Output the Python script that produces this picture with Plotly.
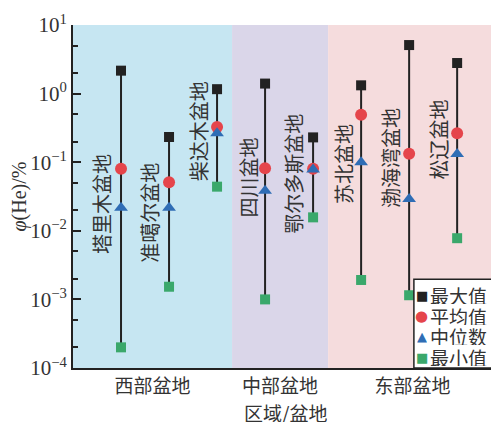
import plotly.graph_objects as go

basins = ["塔里木盆地", "准噶尔盆地", "柴达木盆地", "四川盆地", "鄂尔多斯盆地", "苏北盆地", "渤海湾盆地", "松辽盆地"]
basin_pos = [1, 2, 3, 4, 5, 6, 7, 8]
max_vals = [2.16, 0.233, 1.16, 1.40, 0.23, 1.32, 5.1, 2.79]
mean_vals = [0.080, 0.051, 0.326, 0.0815, 0.080, 0.49, 0.133, 0.264]
median_vals = [0.0217, 0.0217, 0.264, 0.0385, 0.078, 0.10, 0.029, 0.132]
min_vals = [0.0002, 0.00153, 0.044, 0.001, 0.0157, 0.00192, 0.00115, 0.0078]

# label placement (center y in decades) for rotated basin names
label_y = [-1.61, -1.74, -0.55, -1.22, -1.17, -1.03, -0.94, -0.67]
label_dx = [-0.42, -0.40, -0.40, -0.35, -0.40, -0.38, -0.40, -0.38]

regions = ["西部盆地", "中部盆地", "东部盆地"]
region_bounds = [0, 3.3125, 5.3125, 8.83]
region_colors = ["#c6e6f2", "#dad6e9", "#f5dcdd"]

y_tick_exp = [-4, -3, -2, -1, 0, 1]

series_names = ["最大值", "平均值", "中位数", "最小值"]
series_colors = ["#222222", "#e5454b", "#2f6db5", "#3aa86b"]
series_symbols = ["square", "circle", "triangle-up", "square"]
series_sizes = [10, 12, 12, 10]
legend_glyphs = ["■", "●", "▲", "■"]
legend_glyph_sizes = [13, 15, 13, 13]

cjk = "Noto Sans CJK SC"
txt_color = "#333333"

fig = go.Figure()

# region backgrounds
for i in range(3):
    fig.add_shape(type="rect", xref="x", yref="paper",
                  x0=region_bounds[i], x1=region_bounds[i + 1], y0=0, y1=1,
                  fillcolor=region_colors[i], line_width=0, layer="below")

# range lines
lx, ly = [], []
for p, lo, hi in zip(basin_pos, min_vals, max_vals):
    lx += [p, p, None]
    ly += [lo, hi, None]
fig.add_trace(go.Scatter(x=lx, y=ly, mode="lines", line=dict(color="#222222", width=2),
                         showlegend=False, hoverinfo="skip"))

for vals, name, col, sym, sz in zip([max_vals, mean_vals, median_vals, min_vals],
                                    series_names, series_colors, series_symbols, series_sizes):
    fig.add_trace(go.Scatter(x=basin_pos, y=vals, mode="markers", name=name, showlegend=False,
                             marker=dict(symbol=sym, size=sz, color=col)))

for name, p, yy, dx in zip(basins, basin_pos, label_y, label_dx):
    fig.add_annotation(x=p + dx, y=yy, xref="x", yref="y", text=name, textangle=-90,
                       showarrow=False, font=dict(family=cjk, size=20, color=txt_color))

# manual legend box
fig.add_shape(type="rect", xref="paper", yref="paper", x0=0.804, x1=1.0, y0=0.0, y1=0.259,
              fillcolor="white", line=dict(color="#222222", width=1.5), layer="above")
leg_rows = [0.213, 0.152, 0.092, 0.031]
for name, col, g, gs, ry in zip(series_names, series_colors, legend_glyphs, legend_glyph_sizes, leg_rows):
    fig.add_annotation(x=0.822, y=ry, xref="paper", yref="paper", text=g, showarrow=False,
                       xanchor="center", yanchor="middle", height=16, borderpad=0,
                       font=dict(family="DejaVu Sans", size=gs, color=col))
    fig.add_annotation(x=0.840, y=ry, xref="paper", yref="paper", text=name, showarrow=False,
                       xanchor="left", yanchor="middle", height=18, borderpad=0,
                       font=dict(family=cjk, size=19, color=txt_color))

region_centers = [(region_bounds[i] + region_bounds[i + 1]) / 2 for i in range(3)]

fig.update_xaxes(range=[region_bounds[0], region_bounds[-1]], tickvals=region_centers, ticktext=regions,
                 showline=True, linecolor="#222222", linewidth=2, ticks="", showgrid=False, zeroline=False,
                 automargin=False,
                 tickfont=dict(family=cjk, size=19, color=txt_color))

fig.add_annotation(x=0.5, y=-0.127, xref="paper", yref="paper", text="区域/盆地", showarrow=False,
                   xanchor="center", yanchor="middle", height=22, borderpad=0,
                   font=dict(family=cjk, size=19, color=txt_color))

fig.update_yaxes(type="log", range=[-4, 1], tickvals=[10 ** e for e in y_tick_exp],
                 ticktext=["10<sup>%s</sup>" % (str(e).replace("-", "−")) for e in y_tick_exp],
                 showline=True, linecolor="#222222", linewidth=2, ticks="inside", ticklen=8, tickwidth=2,
                 tickcolor="#222222", showgrid=False, zeroline=False, automargin=False,
                 minor=dict(ticks="inside", ticklen=5, tickwidth=1.5, tickcolor="#222222", showgrid=False),
                 tickfont=dict(family="Liberation Serif", size=21, color=txt_color),
                 title=dict(text="<i>φ</i>(He)/%", font=dict(family="Liberation Serif", size=20, color=txt_color), standoff=4))

# page body has an 8px default margin; size the figure so the plot lands where the reference has it
fig.update_layout(width=491, height=414, margin=dict(l=65, r=2, t=17, b=54),
                  plot_bgcolor="white", paper_bgcolor="white", showlegend=False)

fig.write_html("out.html")
